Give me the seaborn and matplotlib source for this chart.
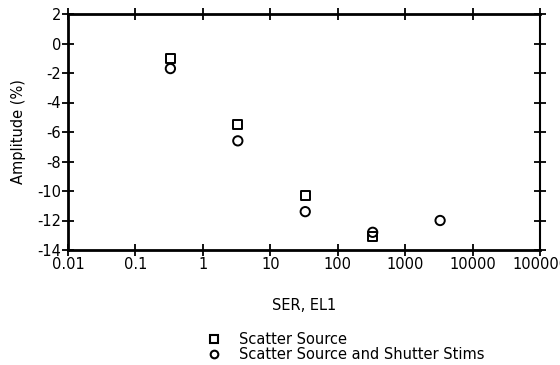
import matplotlib
matplotlib.use("Agg")
import matplotlib.pyplot as plt
import seaborn as sns
import pandas as pd
from matplotlib.ticker import FixedLocator, NullLocator
from matplotlib.lines import Line2D

ser_source = [0.33, 3.3, 33, 330]
amp_source = [-1.0, -5.5, -10.3, -13.1]
ser_stims = [0.33, 3.3, 33, 330, 3300]
amp_stims = [-1.7, -6.6, -11.4, -12.8, -12.0]
series_names = ["Scatter Source", "Scatter Source and Shutter Stims"]
x_ticks = [0.01, 0.1, 1, 10, 100, 1000, 10000, 100000]
x_tick_labels = ["0.01", "0.1", "1", "10", "100", "1000", "10000", "100000"]
y_ticks = [2, 0, -2, -4, -6, -8, -10, -12, -14]

df = pd.DataFrame({
    "SER": ser_source + ser_stims,
    "Amp": amp_source + amp_stims,
    "Series": [series_names[0]] * len(ser_source) + [series_names[1]] * len(ser_stims),
})

sns.set_style("white", {"text.color": "black", "axes.labelcolor": "black",
                        "xtick.color": "black", "ytick.color": "black"})
plt.rcParams["font.family"] = ["DejaVu Sans"]

fig = plt.figure(figsize=(5.6, 3.65), dpi=100)
ax = fig.add_axes([68 / 560, 1 - 250 / 365, (540 - 68) / 560, (250 - 14) / 365])

sns.scatterplot(data=df, x="SER", y="Amp", hue="Series", style="Series",
                markers={series_names[0]: "s", series_names[1]: "o"},
                palette={series_names[0]: "black", series_names[1]: "black"},
                s=45, ax=ax, legend=False)
for coll in ax.collections:
    coll.set_facecolor("none")
    coll.set_edgecolor("black")
    coll.set_linewidth(1.4)

ax.set_xscale("log")
ax.set_xlim(0.01, 100000)
ax.set_ylim(-14, 2)
ax.xaxis.set_major_locator(FixedLocator(x_ticks))
ax.xaxis.set_minor_locator(NullLocator())
ax.set_xticklabels(x_tick_labels)
ax.set_yticks(y_ticks)
ax.set_yticklabels([str(v) for v in y_ticks])

for side in ["left", "bottom", "top"]:
    ax.spines[side].set_linewidth(2.0)
    ax.spines[side].set_color("black")
ax.spines["right"].set_linewidth(1.5)
ax.spines["right"].set_color("black")

ax.tick_params(axis="both", which="major", direction="inout", length=8, width=1.3,
               labelsize=10.5, colors="black", pad=1)
ax.tick_params(axis="x", top=True, bottom=True)
ax.tick_params(axis="y", left=True, right=True)

ax.set_xlabel("SER, EL1", fontsize=10.5, labelpad=19, color="black")
ax.set_ylabel("Amplitude (%)", fontsize=10.5, labelpad=8, color="black")

handles = [Line2D([], [], marker="s", linestyle="none", markerfacecolor="none",
                  markeredgecolor="black", markersize=6, markeredgewidth=1.5),
           Line2D([], [], marker="o", linestyle="none", markerfacecolor="none",
                  markeredgecolor="black", markersize=5.5, markeredgewidth=1.5)]
leg = fig.legend(handles, series_names, loc="upper left", bbox_to_anchor=(197 / 560, 1 - 326 / 365),
                 frameon=False, fontsize=10.5, handletextpad=1.0, labelspacing=0.0,
                 borderaxespad=0, handlelength=1.5)
for t in leg.get_texts():
    t.set_color("black")

fig.savefig("out.png", dpi=100)
